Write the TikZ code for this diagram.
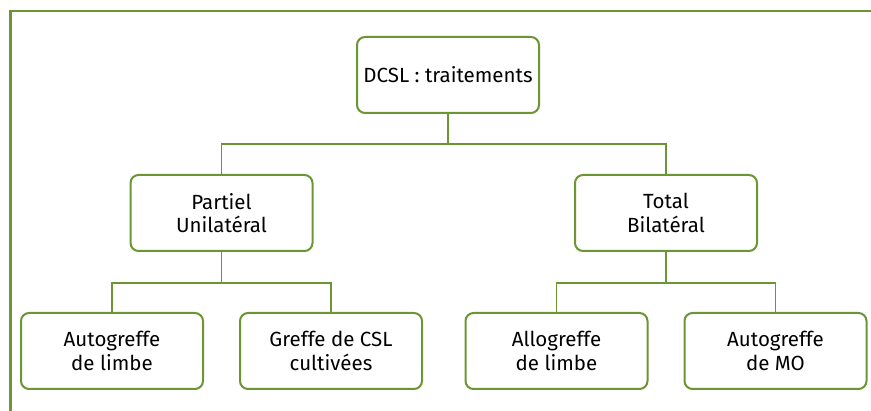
\documentclass[tikz,border=0pt]{standalone}
\usepackage{fontspec}
\setmainfont{Fira Sans}
\definecolor{leaf}{RGB}{108,150,52}
\begin{document}
\begin{tikzpicture}[x=1pt,y=-1pt,
  box/.style={draw=leaf, line width=2pt, rounded corners=8pt, fill=white,
    minimum width=182pt, minimum height=76pt, align=center,
    font=\fontsize{20.5}{23.5}\selectfont, inner sep=0pt},
  link/.style={draw=leaf, line width=1.6pt}]
  \useasboundingbox (0,0) rectangle (871,411);
  % open frame along the top and left edges
  \draw[leaf, line width=2.6pt] (10.7,411) -- (10.7,11) -- (871,11);
  % tree nodes
  \node[box] (root) at (448,75) {DCSL : traitements};
  \node[box] (part) at (221.5,213) {Partiel\\Unilatéral};
  \node[box] (tot) at (666,213) {Total\\Bilatéral};
  \node[box] (a1) at (112,351) {Autogreffe\\de limbe};
  \node[box] (a2) at (331,351) {Greffe de CSL\\cultivées};
  \node[box] (b1) at (556.5,351) {Allogreffe\\de limbe};
  \node[box] (b2) at (775.5,351) {Autogreffe\\de MO};
  % elbow connectors
  \draw[link] (root.south) -- ++(0,30) coordinate (r1) -| (part.north);
  \draw[link] (r1) -| (tot.north);
  \draw[link] (part.south) -- ++(0,31) coordinate (p1) -| (a1.north);
  \draw[link] (p1) -| (a2.north);
  \draw[link] (tot.south) -- ++(0,31) coordinate (t1) -| (b1.north);
  \draw[link] (t1) -| (b2.north);
\end{tikzpicture}
\end{document}
